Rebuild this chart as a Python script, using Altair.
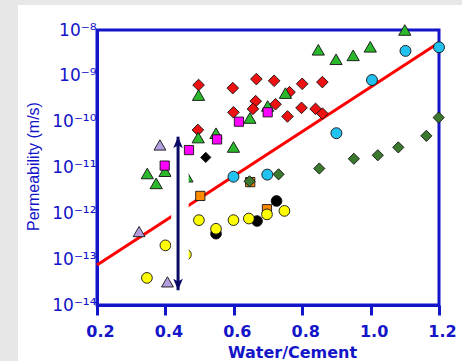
import altair as alt
import pandas as pd

# ---------------- data ----------------
red_dia_x = [0.497, 0.495, 0.666, 0.718, 0.800, 0.859, 0.597, 0.763, 0.664, 0.722, 0.656, 0.599, 0.798, 0.839, 0.859, 0.757]
red_dia_y = [6.3e-10, 6.6e-11, 8.5e-10, 7.8e-10, 6.7e-10, 7.3e-10, 5.4e-10, 4.4e-10, 2.8e-10, 2.4e-10, 1.9e-10, 1.6e-10, 2.0e-10, 1.9e-10, 1.5e-10, 1.3e-10]

green_tri_x = [0.497, 0.496, 0.548, 0.347, 0.373, 0.399, 0.463, 0.751, 0.699, 0.647, 0.599, 0.847, 0.899, 0.949, 0.999, 1.100]
green_tri_y = [3.8e-10, 4.5e-11, 5.6e-11, 7.4e-12, 4.5e-12, 8.3e-12, 6.3e-12, 4.2e-10, 2.2e-10, 1.2e-10, 2.8e-11, 3.7e-9, 2.3e-9, 2.8e-9, 4.3e-9, 1.0e-8]

magenta_sq_x = [0.551, 0.469, 0.398, 0.699, 0.615]
magenta_sq_y = [4.1e-11, 2.4e-11, 1.1e-11, 1.6e-10, 1.0e-10]

lavender_tri_x = [0.384, 0.323, 0.406]
lavender_tri_y = [3.1e-11, 4.0e-13, 3.2e-14]

orange_sq_x = [0.502, 0.697, 0.648]
orange_sq_y = [2.4e-12, 1.23e-12, 4.8e-12]

dkgreen_dia_x = [0.646, 0.731, 0.850, 0.951, 1.021, 1.081, 1.163, 1.199]
dkgreen_dia_y = [5.0e-12, 7.1e-12, 9.5e-12, 1.55e-11, 1.85e-11, 2.75e-11, 4.9e-11, 1.23e-10]

cyan_circ_x = [0.599, 0.698, 0.900, 1.004, 1.102, 1.200]
cyan_circ_y = [6.3e-12, 7.0e-12, 5.6e-11, 8.1e-10, 3.5e-9, 4.2e-9]

black_circ_x = [0.548, 0.668, 0.725]
black_circ_y = [3.6e-13, 6.8e-13, 1.86e-12]

yellow_circ_x = [0.498, 0.548, 0.599, 0.644, 0.697, 0.748, 0.400, 0.460, 0.346]
yellow_circ_y = [7.1e-13, 4.6e-13, 7.1e-13, 7.7e-13, 9.5e-13, 1.13e-12, 2.0e-13, 1.26e-13, 3.9e-14]

black_dia_x = [0.518]
black_dia_y = [1.66e-11]

fit_x = [0.2, 1.195]
fit_y = [7.5e-14, 5.0e-9]

arrow_x = [0.437]
arrow_top = [4.7e-11]
arrow_bottom = [2.1e-14]

gap_x = [0.417, 0.468]
gap_y = [1.3e-11, 4.5e-14]

x_ticks = [0.2, 0.3, 0.4, 0.5, 0.6, 0.7, 0.8, 0.9, 1.0, 1.1, 1.2]
y_ticks = [1e-14, 1e-13, 1e-12, 1e-11, 1e-10, 1e-9, 1e-8]
y_tick_labels = ["10⁻¹⁴", "10⁻¹³", "10⁻¹²", "10⁻¹¹", "10⁻¹⁰", "10⁻⁹", "10⁻⁸"]

BLUE = "#1414c8"
NAVY = "#0a0a66"

xscale = alt.Scale(domain=[0.2, 1.2], nice=False, zero=False)
yscale = alt.Scale(type="log", domain=[1e-14, 1e-8], nice=False)

# label expression for y axis (maps each decade to its superscript label)
expr = "''"
for v, lab in reversed(list(zip(y_ticks, y_tick_labels))):
    expr = f"(datum.value < {v * 3:.1e} ? '{lab}' : {expr})"

x_axis = alt.Axis(
    values=x_ticks,
    labelExpr="round(datum.value*10) % 2 == 0 ? format(datum.value, '.1f') : ''",
    title="Water/Cement",
    titleFont="DejaVu Sans", titleFontSize=16, titleFontWeight="bold", titleColor=BLUE,
    titleX=195, titleY=52, titleAlign="center", titleBaseline="alphabetic",
    labelFont="DejaVu Sans", labelFontSize=16, labelFontWeight="bold", labelColor=BLUE,
    labelBaseline="alphabetic", labelPadding=21, labelOffset=3, labelFlush=False,
    tickSize=10, tickWidth=3, tickColor=BLUE,
    domainColor=BLUE, domainWidth=3, grid=False,
)
y_axis = alt.Axis(
    values=y_ticks,
    labelExpr=expr,
    title="Permeability (m/s)",
    titleFont="Liberation Sans", titleFontSize=16, titleFontWeight="normal", titleColor=BLUE,
    titleX=-64, titleY=136, titleAngle=270, titleAlign="center", titleBaseline="middle",
    labelFont="DejaVu Sans", labelFontSize=17, labelColor=BLUE, labelPadding=1,
    labelFlush=False,
    ticks=False, tickSize=0,
    domainColor=BLUE, domainWidth=3, grid=False,
)

# gray surround strips
strips = alt.Chart(alt.Data(values=[{"a": 1}])).mark_rect(color="#e7e7e7").encode(
    x=alt.value(-97), x2=alt.value(-79), y=alt.value(-30), y2=alt.value(331)
)
strip_top = alt.Chart(alt.Data(values=[{"a": 1}])).mark_rect(color="#e7e7e7").encode(
    x=alt.value(-97), x2=alt.value(365), y=alt.value(-30), y2=alt.value(-25)
)

line_df = pd.DataFrame({"x": fit_x, "y": fit_y})
fit = alt.Chart(line_df).mark_line(color="#ff0000", strokeWidth=3).encode(
    x=alt.X("x:Q", scale=xscale, axis=x_axis),
    y=alt.Y("y:Q", scale=yscale, axis=y_axis),
)

def series(xs, ys, shape, fill, size):
    df = pd.DataFrame({"x": xs, "y": ys})
    return alt.Chart(df).mark_point(
        shape=shape, filled=True, fill=fill, stroke="#111111", strokeWidth=0.9,
        size=size, opacity=1,
    ).encode(x=alt.X("x:Q", scale=xscale), y=alt.Y("y:Q", scale=yscale))

layers = [
    strips, strip_top, fit,
    series(red_dia_x, red_dia_y, "diamond", "#ee1111", 135),
    series(green_tri_x, green_tri_y, "triangle-up", "#2cb82c", 150),
    series(magenta_sq_x, magenta_sq_y, "square", "#ff00ff", 85),
    series(lavender_tri_x, lavender_tri_y, "triangle-up", "#b49ee0", 140),
    series(orange_sq_x, orange_sq_y, "square", "#ff8a00", 85),
    series(dkgreen_dia_x, dkgreen_dia_y, "diamond", "#3b7a2e", 125),
    series(cyan_circ_x, cyan_circ_y, "circle", "#22c2f0", 120),
    series(black_circ_x, black_circ_y, "circle", "#000000", 115),
    series(yellow_circ_x, yellow_circ_y, "circle", "#ffff00", 115),
    series(black_dia_x, black_dia_y, "diamond", "#000000", 105),
]

gap_df = pd.DataFrame({"x": [gap_x[0]], "x2": [gap_x[1]], "y": [gap_y[0]], "y2": [gap_y[1]]})
gap = alt.Chart(gap_df).mark_rect(color="white").encode(
    x=alt.X("x:Q", scale=xscale), x2="x2:Q",
    y=alt.Y("y:Q", scale=yscale), y2="y2:Q",
)
arrow_df = pd.DataFrame({"x": arrow_x, "top": arrow_top, "bottom": arrow_bottom})
shaft = alt.Chart(arrow_df).mark_rule(color=NAVY, strokeWidth=3).encode(
    x=alt.X("x:Q", scale=xscale),
    y=alt.Y("top:Q", scale=yscale), y2="bottom:Q",
)
head_up = alt.Chart(arrow_df).mark_point(
    shape="M0,-1L0.8,0.9L0,0.45L-0.8,0.9Z", filled=True, fill=NAVY, strokeWidth=0,
    size=144, yOffset=6, opacity=1,
).encode(x=alt.X("x:Q", scale=xscale), y=alt.Y("top:Q", scale=yscale))
head_down = alt.Chart(arrow_df).mark_point(
    shape="M0,1L0.8,-0.9L0,-0.45L-0.8,-0.9Z", filled=True, fill=NAVY, strokeWidth=0,
    size=144, yOffset=-6, opacity=1,
).encode(x=alt.X("x:Q", scale=xscale), y=alt.Y("bottom:Q", scale=yscale))

layers += [gap, shaft, head_up, head_down]

chart = alt.layer(*layers).properties(
    width=342, height=275,
    autosize=alt.AutoSizeParams(type="none"),
    padding={"left": 97, "top": 30, "right": 23, "bottom": 56},
).configure(background="white").configure_view(
    stroke=BLUE, strokeWidth=3, fill="white"
)

chart.save("out.html", embed_options={"renderer": "svg", "actions": False})
